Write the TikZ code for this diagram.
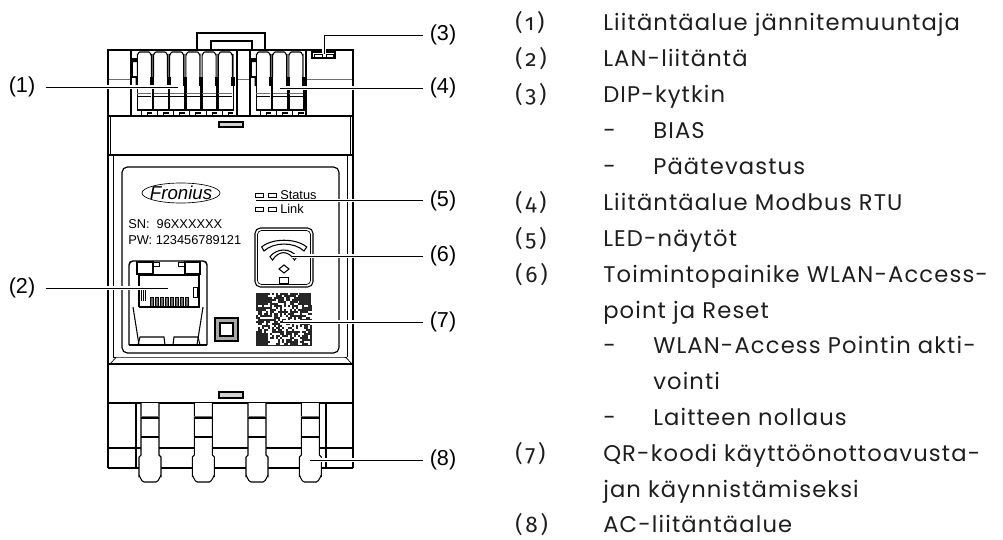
\documentclass[tikz,border=0pt]{standalone}
\usepackage{fontspec}
\setmainfont{Liberation Sans}
\newfontfamily\listfont[LetterSpace=5]{Poppins}
\newfontfamily\numfont[Numbers=OldStyle,LetterSpace=12]{Fira Sans}
\usetikzlibrary{positioning}
\definecolor{devgray}{HTML}{6E6E6E}
\definecolor{listblack}{HTML}{1E1E1E}

\begin{document}
\begin{tikzpicture}[x=0.75pt,y=-0.75pt,
  edge/.style={line width=0.8pt,black},
  fine/.style={line width=0.5pt,black},
  soft/.style={line width=0.7pt,devgray},
  leader/.style={preaction={draw=white,line width=2.6pt},line width=0.75pt,black},
  callout/.style={font=\fontsize{16.2}{18}\selectfont,inner sep=0pt},
  paneltext/.style={anchor=base west,inner sep=0pt,font=\fontsize{9.6}{11}\selectfont},
  num/.style={anchor=base west,inner sep=0pt,text=listblack,
              font=\numfont\fontsize{17}{18}\selectfont},
  entry/.style={anchor=base west,inner sep=0pt,text=listblack,
              font=\listfont\fontsize{17}{18}\selectfont}
]
  \useasboundingbox (0,0) rectangle (1003,539);

  % ---- Handle and terminal row (top) ---------------------------
  \draw[edge] (197,50) -- (197,33) -- (265,33) -- (265,50);
  \draw[edge] (211,50) -- (211,41) -- (252,41) -- (252,50);
  \draw[soft] (107,79) -- (131,79) (237,79) -- (250,79) (306,79) -- (353,79);
  \draw[edge] (131,50) -- (131,116) (237,50) -- (237,116);
  \draw[edge] (250,50) -- (250,116) (306,50) -- (306,116);
  \fill (131,58) rectangle (137,62) (250,58) rectangle (256,62);
  \draw[edge] (131,77) -- (138,77) (250,77) -- (256,77);
  \draw[fine] (132,62) -- (132,77) (251,62) -- (251,77);

  \foreach \cx in {144.3,160.5,176.7,192.9,209.1,225.3,263.3,279.6,295.8} {
    % one terminal
    \draw[edge] (\cx-7,77) -- (\cx-7,55) to[out=-90,in=180] (\cx-4.5,52)
      -- (\cx+4.5,52) to[out=0,in=-90] (\cx+7,55) -- (\cx+7,77);
    \draw[soft] (\cx+8,54) -- (\cx+8,77);
    \fill (\cx+6,77) rectangle (\cx+10,86);
    \draw[line width=1.1pt] (\cx+8,86) -- (\cx+8,110) -- (\cx-7,110) -- (\cx-7,86);
    \draw[soft] (\cx-7,93.5) -- (\cx+7,93.5);
    \draw[fine] (\cx-7,96.5) -- (\cx+7,96.5);
    \draw[edge] (\cx-3,110) -- (\cx-3,116) (\cx+3,116) -- (\cx+3,113) -- (\cx+8,113);
  }
  \fill (135.5,77) rectangle (137.8,86) (254.5,77) rectangle (256.8,86);

  % DIP switch
  \draw[edge] (312,52) rectangle (335,58);
  \draw[fine,fill=white] (314,54) rectangle (322,57.5) (326,54) rectangle (333,57.5);

  % ---- Housing -------------------------------------------------
  \draw[edge] (108,116) -- (108,50) -- (353,50) -- (353,468);
  \draw[edge] (108,116) -- (108,468);
  \draw[edge] (107,116) -- (354,116);
  \draw[edge] (107,155) -- (354,155);
  \draw[edge] (107,364) -- (354,364);
  \draw[edge] (107,403) -- (354,403);
  \draw[fine] (110.5,116) -- (110.5,155) (350.5,116) -- (350.5,155);
  \draw[fine] (113,155) -- (113,357) -- (118,357) -- (343,357) -- (347,357);
  \draw[fine] (347,155) -- (347,357);
  \draw[fine] (110,364) -- (116,357.5) (352,364) -- (346,357.5);
  \draw[edge,fill=devgray!30] (219,122) rectangle (243,127);
  \draw[edge,fill=devgray!30] (219,392) rectangle (243,398);

  % ---- Front panel ---------------------------------------------
  \draw[line width=0.9pt,rounded corners=4pt] (122,167) rectangle (339,353);

  % logo
  \draw[fine] (181,193) ellipse (39 and 10);
  \node[font=\itshape\fontsize{14}{14}\selectfont] (logo) at (181,193) {Fronius};

  \node[paneltext] (sn) at (128,228) {SN:\ \ 96XXXXXX};
  \node[paneltext] (pw) at (128,244) {PW: 123456789121};

  % LEDs
  \foreach \ly in {193,207} {
    \draw[fine] (255,\ly) rectangle (263,\ly+4);
    \draw[fine] (268,\ly) rectangle (276.5,\ly+4);
  }
  \node[paneltext] (status) at (280,199.5) {Status};
  \node[paneltext] (link) at (280,213.5) {Link};

  % WLAN button
  \draw[edge,rounded corners=4pt] (255,228) rectangle (313,287);
  \draw[fine,rounded corners=3pt] (257.5,230.5) rectangle (310.5,284.5);
  \draw[edge] (261.7,247) .. controls (272,238) and (296,238) .. (306.7,247)
    -- (304,251) .. controls (294,241.7) and (274,241.7) .. (264,251) -- cycle;
  \draw[edge] (270,256.7) .. controls (277,247.8) and (290,247.8) .. (297,256.7)
    -- (294.5,260) .. controls (288,250.2) and (279,250.2) .. (272.5,260) -- cycle;
  \draw[edge] (284,265) -- (289,269) -- (284,273) -- (279,269) -- cycle;
  \draw[fine] (279.5,277) rectangle (288,283);

  % QR code
  \fill[black!85] (256,293) rectangle (312,346);
  \pgfmathsetseed{11}
  \foreach \qx in {0,...,27} {
    \foreach \qy in {0,...,25} {
      \pgfmathparse{rnd>0.55?1:0}
      \ifnum\pgfmathresult=1
        \fill[white] (256+2*\qx,293+2*\qy) rectangle +(2,2);
      \fi
    }
  }
  \foreach \qx/\qy in {257/294,300/294,257/334} {
    \draw[line width=1pt,fill=white,black!85] (\qx,\qy) rectangle +(10,10);
    \fill[black!85] (\qx+3,\qy+3) rectangle +(4,4);
  }

  % RJ45 socket
  \draw[line width=1.1pt,rounded corners=3pt] (129,345) -- (129,261) -- (207,261) -- (207,345);
  \draw[edge] (129,345) -- (207,345);
  \draw[edge] (139,345) -- (133,307) (197,345) -- (203,307);
  \draw[edge] (137,262) rectangle (153,274) (185,262) rectangle (200,274);
  \draw[fine] (153,262) rectangle (159,266) (178,262) rectangle (185,266);
  \draw[edge] (139,307) -- (139,275) -- (199,275) -- (199,307) -- (139,307);
  \draw[fine] (140,289) -- (145,289) -- (145,301) (141,289) -- (141,301) (143,289) -- (143,301);
  \draw[fine] (193,287) rectangle (197,297);
  \foreach \px in {150.5,155.5,...,186} {
    \draw[fill=devgray] (\px,297) rectangle +(3,9);
  }
  \draw[edge] (138,345) -- (140,337) -- (164,337) -- (165,345);
  \draw[edge] (173,345) -- (174,337) -- (198,337) -- (200,345);

  % small button
  \draw[edge,fill=devgray!60] (215,318) rectangle (238,341);
  \draw[edge,fill=white] (220,323) rectangle (233,336);

  % ---- Mains terminals (bottom) --------------------------------
  \draw[edge] (136,403) -- (136,468) -- (326,468) -- (326,403);
  \draw[edge] (108,448) -- (353,448);
  \draw[edge] (108,468) -- (136,468) (326,468) -- (353,468);
  \foreach \cx in {150,203.3,257,310.3} {
    \draw[edge,fill=white] (\cx-9,403) -- (\cx-9,455) -- (\cx-11,457) -- (\cx-11,476)
      to[out=90,in=180] (\cx-6,482) -- (\cx+6,482) to[out=0,in=90] (\cx+11,476)
      -- (\cx+11,457) -- (\cx+9,455) -- (\cx+9,403);
    \draw[soft] (\cx-9,416) -- (\cx+9,416);
    \draw[edge] (\cx-9,418) -- (\cx+9,418);
    \draw[edge] (\cx-9,437) -- (\cx+9,437);
  }

  % ---- Callouts ------------------------------------------------
  \coordinate (p1) at (178,87);
  \coordinate (p2) at (168,288);
  \coordinate (p3) at (324,54);
  \coordinate (p4) at (280,88);
  \coordinate (p5) at (256,200.5);
  \coordinate (p6) at (292,256);
  \coordinate (p7) at (283,322);
  \coordinate (p8) at (310,460);

  \node[callout] (c1) at (22,87) {(1)};
  \node[callout] (c2) at (22,288) {(2)};
  \node[callout] (c3) at (443,35) {(3)};
  \node[callout] (c4) at (443,88) {(4)};
  \node[callout] (c5) at (443,200.5) {(5)};
  \node[callout] (c6) at (443,256) {(6)};
  \node[callout] (c7) at (443,322) {(7)};
  \node[callout] (c8) at (443,460) {(8)};

  \draw[leader] ([xshift=8pt]c1.east) -- (p1);
  \draw[leader] ([xshift=8pt]c2.east) -- (p2);
  \draw[leader] (p3) |- ([xshift=-5pt]c3.west);
  \draw[leader] ([xshift=-5pt]c4.west) -- (p4);
  \draw[leader] ([xshift=-5pt]c5.west) -- (p5);
  \draw[leader] ([xshift=-5pt]c6.west) -- (p6);
  \draw[leader] ([xshift=-5pt]c7.west) -- (p7);
  \draw[leader] ([xshift=-5pt]c8.west) -- (p8);

  % ---- Legend (right) ------------------------------------------
  \node[num] (n1) at (515,30.7) {(1)};
  \node[entry] (t1) at (603,30.7) {Liitäntäalue jännitemuuntaja};
  \node[num] (n2) at (515,66.7) {(2)};
  \node[entry] (t2) at (603,66.7) {LAN-liitäntä};
  \node[num] (n3) at (515,102) {(3)};
  \node[entry] (t3) at (603,102) {DIP-kytkin};
  \node[entry] (d3a) at (603,138) {-};
  \node[entry] (t3a) at (653,138) {BIAS};
  \node[entry] (d3b) at (603,174) {-};
  \node[entry] (t3b) at (653,174) {Päätevastus};
  \node[num] (n4) at (515,210.5) {(4)};
  \node[entry] (t4) at (603,210.5) {Liitäntäalue Modbus RTU};
  \node[num] (n5) at (515,246) {(5)};
  \node[entry] (t5) at (603,246) {LED-näytöt};
  \node[num] (n6) at (515,282) {(6)};
  \node[entry] (t6) at (603,282) {Toimintopainike WLAN-Access-};
  \node[entry] (t6x) at (603,318) {point ja Reset};
  \node[entry] (d6a) at (603,353.5) {-};
  \node[entry] (t6a) at (653,353.5) {WLAN-Access Pointin akti-};
  \node[entry] (t6y) at (653,389) {vointi};
  \node[entry] (d6b) at (603,425) {-};
  \node[entry] (t6b) at (653,425) {Laitteen nollaus};
  \node[num] (n7) at (515,461) {(7)};
  \node[entry] (t7) at (603,461) {QR-koodi käyttöönottoavusta-};
  \node[entry] (t7x) at (603,497) {jan käynnistämiseksi};
  \node[num] (n8) at (515,532.7) {(8)};
  \node[entry] (t8) at (603,532.7) {AC-liitäntäalue};

\end{tikzpicture}
\end{document}
